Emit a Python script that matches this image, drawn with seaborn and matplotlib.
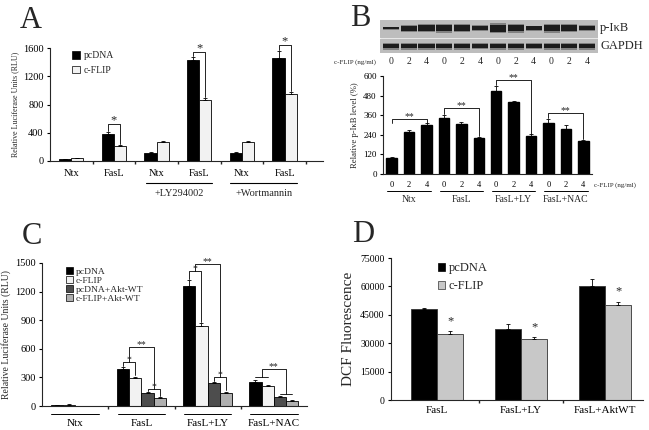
import numpy as np
import pandas as pd
import matplotlib
matplotlib.use("Agg")
import matplotlib.pyplot as plt
import matplotlib.transforms as mtrans
from matplotlib.patches import Patch
import seaborn as sns

sns.set_theme(style="ticks")
plt.rcParams['font.family'] = ['Liberation Serif', 'DejaVu Serif']
plt.rcParams['axes.linewidth'] = 0.8
plt.rcParams['xtick.major.width'] = 0.8
plt.rcParams['ytick.major.width'] = 0.8

# ---------------- data ----------------
# panel A - luciferase
a_groups = ["Ntx", "FasL", "LY Ntx", "LY FasL", "W Ntx", "W FasL"]
a_ticklabels = ["Ntx", "FasL", "Ntx", "FasL", "Ntx", "FasL"]
a_pcdna = [25, 385, 115, 1430, 115, 1460]
a_pcdna_err = [5, 25, 10, 40, 8, 100]
a_cflip = [40, 210, 275, 870, 265, 950]
a_cflip_err = [6, 10, 15, 20, 12, 25]

# panel B - p-IkB level
b_groups = ["Ntx", "FasL", "FasL+LY", "FasL+NAC"]
b_doses = ["0", "2", "4"]
b_values = [100, 255, 300, 345, 305, 220, 510, 440, 235, 315, 278, 200]
b_err = [5, 15, 10, 15, 15, 8, 30, 8, 8, 20, 20, 8]
# western blot band strength per lane (0-1)
blot_pikb = [0.35, 0.7, 0.85, 0.9, 0.85, 0.6, 1.0, 0.9, 0.55, 0.95, 0.85, 0.6]
blot_gapdh = [0.85, 0.85, 0.85, 0.85, 0.85, 0.8, 0.85, 0.85, 0.8, 0.85, 0.85, 0.85]

# panel C - luciferase with Akt-WT
c_groups = ["Ntx", "FasL", "FasL+LY", "FasL+NAC"]
c_series = ["pcDNA", "c-FLIP", "pcDNA+Akt-WT", "c-FLIP+Akt-WT"]
c_pcdna = [6, 390, 1260, 255]
c_cflip = [15, 295, 840, 210]
c_pcdna_akt = [2, 135, 240, 95]
c_cflip_akt = [2, 85, 140, 55]
c_err = [[3, 15, 60, 20], [5, 10, 30, 10], [0, 8, 10, 5], [0, 5, 8, 5]]

# panel D - DCF fluorescence
d_groups = ["FasL", "FasL+LY", "FasL+AktWT"]
d_pcdna = [48000, 37500, 60000]
d_pcdna_err = [800, 2500, 4000]
d_cflip = [35000, 32000, 50000]
d_cflip_err = [1500, 1200, 2000]


def add_err(ax, errs):
    for cont, err in zip(ax.containers, errs):
        xs = [p.get_x() + p.get_width() / 2 for p in cont.patches]
        ys = [p.get_height() for p in cont.patches]
        ax.errorbar(xs, ys, yerr=[np.zeros(len(err)), err], fmt='none', ecolor='black',
                    elinewidth=0.6, capsize=1.5, capthick=0.6)


def cx(ax, k, i):
    p = ax.containers[k].patches[i]
    return p.get_x() + p.get_width() / 2


def bracket(ax, x1, x2, y, y1, y2, txt, fs=8):
    ax.plot([x1, x1, x2, x2], [y1, y, y, y2], color='black', lw=0.6, clip_on=False)
    if txt:
        ax.annotate(txt, xy=((x1 + x2) / 2, y), xytext=(0, -1.5), textcoords='offset points',
                    ha='center', va='bottom', fontsize=fs, annotation_clip=False)


def style(ax):
    sns.despine(ax=ax)
    ax.tick_params(axis='both', length=2.5, pad=2, colors='black')
    ax.set_xlabel('')


fig = plt.figure(figsize=(6.49, 4.30), dpi=100)
W, H = 649.0, 430.0


def box(l, t, r, b):
    return [l / W, 1 - b / H, (r - l) / W, (b - t) / H]


# ---------------- A ----------------
axA = fig.add_axes(box(50, 48, 323, 161))
dfa = pd.DataFrame({"group": a_groups * 2,
                    "series": ["pcDNA"] * 6 + ["c-FLIP"] * 6,
                    "value": a_pcdna + a_cflip})
sns.barplot(data=dfa, x="group", y="value", hue="series", order=a_groups,
            palette=["black", "#f2f2f2"], edgecolor="black", linewidth=0.6,
            width=0.57, errorbar=None, legend=False, ax=axA)
add_err(axA, [a_pcdna_err, a_cflip_err])
axA.set_xlim(-0.5, 5.9)
axA.set_ylim(0, 1600)
axA.set_yticks([0, 400, 800, 1200, 1600])
axA.set_xticks(range(6))
axA.set_xticklabels(a_ticklabels, fontsize=7.5)
axA.set_xticks([0.5, 1.5, 2.5, 3.5, 4.5, 5.5], minor=True)
axA.tick_params(axis='y', labelsize=7.5)
style(axA)
axA.tick_params(axis='x', which='major', length=0, pad=6)
axA.tick_params(axis='x', which='minor', length=2.5)
axA.set_ylabel("Relative Luciferase Units (RLU)", fontsize=5.8, labelpad=3)
bracket(axA, cx(axA, 0, 1), cx(axA, 1, 1), 522, 430, 235, '*', fs=9)
bracket(axA, cx(axA, 0, 3), cx(axA, 1, 3), 1538, 1480, 900, '*', fs=9)
bracket(axA, cx(axA, 0, 5), cx(axA, 1, 5), 1640, 1575, 985, '*', fs=9)
trA = mtrans.blended_transform_factory(axA.transData, axA.transAxes)
for x1, x2, lab in [(1.75, 3.3, "+LY294002"), (3.72, 5.3, "+Wortmannin")]:
    axA.plot([x1, x2], [-0.195, -0.195], color='black', lw=0.8, transform=trA, clip_on=False)
    axA.text((x1 + x2) / 2, -0.29, lab, transform=trA, ha='center', va='center', fontsize=7.5)
axA.legend(handles=[Patch(facecolor='black', edgecolor='black', lw=0.5, label='pcDNA'),
                    Patch(facecolor='#f2f2f2', edgecolor='black', lw=0.5, label='c-FLIP')],
           loc='upper left', bbox_to_anchor=(0.05, 1.05), frameon=False, fontsize=7,
           handlelength=0.8, handleheight=0.8, handletextpad=0.4, labelspacing=0.6)

# ---------------- B ----------------
axBl = fig.add_axes(box(380, 20, 598, 53))
lanes = np.arange(12)
axBl.set_xlim(-0.6, 11.6)
axBl.set_ylim(0, 2)
axBl.axhspan(0, 0.85, color='#bdbdbd')
axBl.axhspan(1.0, 2.0, color='#bdbdbd')
# soft bands: a wide faint layer under a narrow dark core
for hs, al in [(0.5, 0.35), (0.3, 0.9)]:
    axBl.bar(lanes, [hs * v for v in blot_gapdh], bottom=[0.42 - hs / 2 * v for v in blot_gapdh],
             width=0.9, color='#111111', alpha=al, linewidth=0)
    axBl.bar(lanes, [(hs + 0.1) * v for v in blot_pikb],
             bottom=[1.5 - (hs + 0.1) / 2 * v for v in blot_pikb],
             width=0.9, color='#111111', alpha=al, linewidth=0)
axBl.axis('off')
axBl.text(1.01, 0.75, "p-I\u03baB", transform=axBl.transAxes, ha='left', va='center', fontsize=9)
axBl.text(1.01, 0.2, "GAPDH", transform=axBl.transAxes, ha='left', va='center', fontsize=9)
trBl = mtrans.blended_transform_factory(axBl.transData, axBl.transAxes)
for i in lanes:
    axBl.text(i, -0.27, b_doses[i % 3], transform=trBl, ha='center', va='center', fontsize=7)
axBl.text(-0.02, -0.27, "c-FLIP (ng/ml)", transform=axBl.transAxes, ha='right', va='center', fontsize=5)

axB = fig.add_axes(box(383, 76, 592, 174))
b_keys = [g + "-" + d for g in b_groups for d in b_doses]
dfb = pd.DataFrame({"key": b_keys, "value": b_values})
sns.barplot(data=dfb, x="key", y="value", order=b_keys, color="black", edgecolor="black",
            width=0.6, errorbar=None, ax=axB)
add_err(axB, [b_err])
axB.set_xlim(-0.5, 11.5)
axB.set_ylim(0, 600)
axB.set_yticks([0, 120, 240, 360, 480, 600])
axB.set_xticks(range(12))
axB.set_xticklabels([b_doses[i % 3] for i in range(12)], fontsize=6)
axB.tick_params(axis='y', labelsize=6.5)
style(axB)
axB.tick_params(axis='x', length=0, pad=5)
axB.set_ylabel("Relative p-I\u03baB level (%)", fontsize=6.2, labelpad=3)
bracket(axB, 0, 2, 337, 312, 312, '**', fs=7)
bracket(axB, 3, 5, 402, 365, 232, '**', fs=7)
bracket(axB, 6, 8, 575, 545, 247, '**', fs=7)
bracket(axB, 9, 11, 371, 340, 212, '**', fs=7)
trB = mtrans.blended_transform_factory(axB.transData, axB.transAxes)
for gi, g in enumerate(b_groups):
    axB.plot([3 * gi - 0.25, 3 * gi + 2.25], [-0.175, -0.175], color='black', lw=0.7,
             transform=trB, clip_on=False)
    axB.text(3 * gi + 1, -0.265, g, transform=trB, ha='center', va='center', fontsize=7)
axB.text(1.01, -0.11, "c-FLIP (ng/ml)", transform=axB.transAxes, ha='left', va='center', fontsize=5)

# ---------------- C ----------------
axC = fig.add_axes(box(42, 263, 307, 406))
dfc = pd.DataFrame({"group": c_groups * 4,
                    "series": [s for s in c_series for _ in c_groups],
                    "value": c_pcdna + c_cflip + c_pcdna_akt + c_cflip_akt})
c_colors = ["black", "#f2f2f2", "#4d4d4d", "#b0b0b0"]
sns.barplot(data=dfc, x="group", y="value", hue="series", order=c_groups, hue_order=c_series,
            palette=c_colors, edgecolor="black", linewidth=0.6, width=0.74,
            errorbar=None, legend=False, ax=axC)
add_err(axC, c_err)
axC.set_xlim(-0.5, 3.5)
axC.set_ylim(0, 1500)
axC.set_yticks([0, 300, 600, 900, 1200, 1500])
axC.set_xticks(range(4))
axC.set_xticklabels(c_groups, fontsize=8)
axC.set_xticks([0.5, 1.5, 2.5], minor=True)
axC.tick_params(axis='y', labelsize=7.5)
style(axC)
axC.tick_params(axis='x', which='major', length=0, pad=9)
axC.tick_params(axis='x', which='minor', length=2.5)
axC.set_ylabel("Relative Luciferase Units (RLU)", fontsize=7, labelpad=3)
trC = mtrans.blended_transform_factory(axC.transData, axC.transAxes)
for gi in range(4):
    axC.plot([gi - 0.36, gi + 0.36], [-0.056, -0.056], color='black', lw=0.7,
             transform=trC, clip_on=False)
c_all = [c_pcdna, c_cflip, c_pcdna_akt, c_cflip_akt]
for g, (ya, yb, yt) in [(1, (465, 183, 616)), (2, (1415, 300, 1486))]:
    c0, c1, c2, c3 = [cx(axC, k, g) for k in range(4)]
    bracket(axC, c0, c1, ya, c_all[0][g] + c_err[0][g] + 15, c_all[1][g] + c_err[1][g] + 15, '*', fs=7)
    bracket(axC, c2, c3, yb, c_all[2][g] + c_err[2][g] + 15, c_all[3][g] + c_err[3][g] + 15, '*', fs=7)
    bracket(axC, (c0 + c1) / 2, (c2 + c3) / 2, yt, ya, yb, '**', fs=7)
c0, c1, c2, c3 = [cx(axC, k, 3) for k in range(4)]
axC.plot([c0, c1], [300, 300], color='black', lw=0.6)
axC.plot([c2, c3], [130, 130], color='black', lw=0.6)
bracket(axC, (c0 + c1) / 2, (c2 + c3) / 2, 387, 300, 130, '**', fs=7)
axC.legend(handles=[Patch(facecolor=c, edgecolor='black', lw=0.5, label=s)
                    for c, s in zip(c_colors, c_series)],
           loc='upper left', bbox_to_anchor=(0.06, 1.03), frameon=False, fontsize=6.8,
           handlelength=0.7, handleheight=0.7, handletextpad=0.3, labelspacing=0.05)

# ---------------- D ----------------
axD = fig.add_axes(box(391, 258, 643, 400))
dfd = pd.DataFrame({"group": d_groups * 2,
                    "series": ["pcDNA"] * 3 + ["c-FLIP"] * 3,
                    "value": d_pcdna + d_cflip})
sns.barplot(data=dfd, x="group", y="value", hue="series", order=d_groups,
            palette=["black", "#c8c8c8"], edgecolor="#333333", linewidth=0.6,
            width=0.62, errorbar=None, legend=False, ax=axD)
add_err(axD, [d_pcdna_err, d_cflip_err])
axD.set_xlim(-0.55, 2.45)
axD.set_ylim(0, 75000)
axD.set_yticks([0, 15000, 30000, 45000, 60000, 75000])
axD.set_xticks(range(3))
axD.set_xticklabels(d_groups, fontsize=8)
axD.set_xticks([0.5, 1.5], minor=True)
axD.tick_params(axis='y', labelsize=7)
style(axD)
axD.tick_params(axis='x', which='major', length=0, pad=4)
axD.tick_params(axis='x', which='minor', length=2.5)
axD.set_ylabel("DCF Fluorescence", fontsize=11, labelpad=4)
for i in range(3):
    axD.text(cx(axD, 1, i), d_cflip[i] + d_cflip_err[i] + 2000, '*', ha='center', va='bottom', fontsize=9)
axD.legend(handles=[Patch(facecolor='black', edgecolor='black', lw=0.5, label='pcDNA'),
                    Patch(facecolor='#c8c8c8', edgecolor='#333333', lw=0.5, label='c-FLIP')],
           loc='upper left', bbox_to_anchor=(0.14, 1.05), frameon=False, fontsize=9,
           handlelength=0.6, handleheight=0.6, handletextpad=0.3, labelspacing=0.5)

# panel letters
for x, y, t in [(20, 20, "A"), (350, 18, "B"), (22, 237, "C"), (352, 235, "D")]:
    fig.text(x / W, 1 - y / H, t, fontsize=22, ha='left', va='center')

fig.savefig("out.png", dpi=100)
